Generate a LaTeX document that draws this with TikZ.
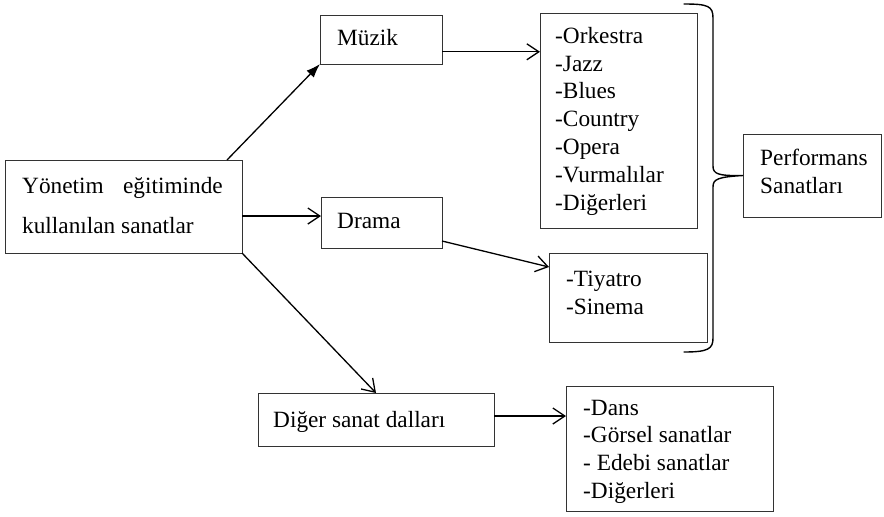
\documentclass[tikz,border=0pt]{standalone}
\usepackage{fontspec}
\setmainfont{Liberation Serif}
\usetikzlibrary{arrows.meta}
\begin{document}
\begin{tikzpicture}[x=1pt,y=-1pt,
  box/.style={draw=black!80, line width=0.8pt, rectangle, inner sep=0pt, outer sep=0pt, anchor=north west},
  txt/.style={inner sep=0pt, anchor=base west, font=\fontsize{23.3}{28}\selectfont},
  conn/.style={line width=1.3pt, -{Straight Barb[length=12pt,width=16pt]}},
  connF/.style={line width=1.3pt, -{Latex[length=14pt,width=10pt]}},
  bracestyle/.style={line width=1.4pt, line cap=round}]
\useasboundingbox (0,0) rectangle (884,517);

% boxes
\node[box, minimum width=237pt, minimum height=93pt] (left) at (5,160) {};
\node[box, minimum width=122pt, minimum height=49pt] (muzik) at (320,15) {};
\node[box, minimum width=121pt, minimum height=51pt] (drama) at (321,197) {};
\node[box, minimum width=236pt, minimum height=53pt] (diger) at (258,393) {};
\node[box, minimum width=157pt, minimum height=215pt] (liste) at (540,13) {};
\node[box, minimum width=158pt, minimum height=89pt] (tiy) at (549,253) {};
\node[box, minimum width=138pt, minimum height=83pt] (perf) at (743,134) {};
\node[box, minimum width=207pt, minimum height=125pt] (dans) at (566,386) {};

% texts
\node[txt] (l1a) at (22,193) {Yönetim};
\node[txt, anchor=base east] (l1b) at (223,193) {eğitiminde};
\node[txt] (l2) at (22,233) {kullanılan sanatlar};
\node[txt] (tm) at (337,45.7) {Müzik};
\node[txt] (td) at (337,228) {Drama};
\node[txt] (tdg) at (273,427) {Diğer sanat dalları};
\node[txt] (tp1) at (760,165) {Performans};
\node[txt] (tp2) at (760,193) {Sanatları};
\foreach \t [count=\i] in {-Orkestra,-Jazz,-Blues,-Country,-Opera,-Vurmalılar,-Diğerleri}
  \node[txt] (mus\i) at (555,{43.3+27.8*(\i-1)}) {\t};
\foreach \t [count=\i] in {-Tiyatro,-Sinema}
  \node[txt] (dr\i) at (566,{286+28*(\i-1)}) {\t};
\foreach \t [count=\i] in {-Dans,-Görsel sanatlar,- Edebi sanatlar,-Diğerleri}
  \node[txt] (ds\i) at (583,{415+27.7*(\i-1)}) {\t};

% connectors
\draw[connF] ([xshift=-15pt]left.north east) -- (muzik.south west);
\coordinate (a1) at ([yshift=-12.3pt]muzik.east);
\draw[conn] (a1) -- (a1 -| liste.west);
\coordinate (a2) at ([yshift=-9.5pt]left.east);
\draw[conn] (a2) -- (a2 -| drama.west);
\draw[conn] ([yshift=-18.5pt]drama.east) -- ([yshift=30.5pt]tiy.west);
\draw[conn] (left.south east) -- ([xshift=118pt]diger.north west);
\coordinate (a3) at ([yshift=3.5pt]diger.east);
\draw[conn] (a3) -- (a3 -| dans.west);

% brace
\draw[bracestyle] (684,4) .. controls (708,4) and (713,6) .. (713,18)
  -- (713,166) .. controls (713,174) and (718,176) .. (perf.west)
  .. controls (718,177) and (713,179) .. (713,187)
  -- (713,338) .. controls (713,349) and (708,352) .. (684,352);
\end{tikzpicture}
\end{document}
